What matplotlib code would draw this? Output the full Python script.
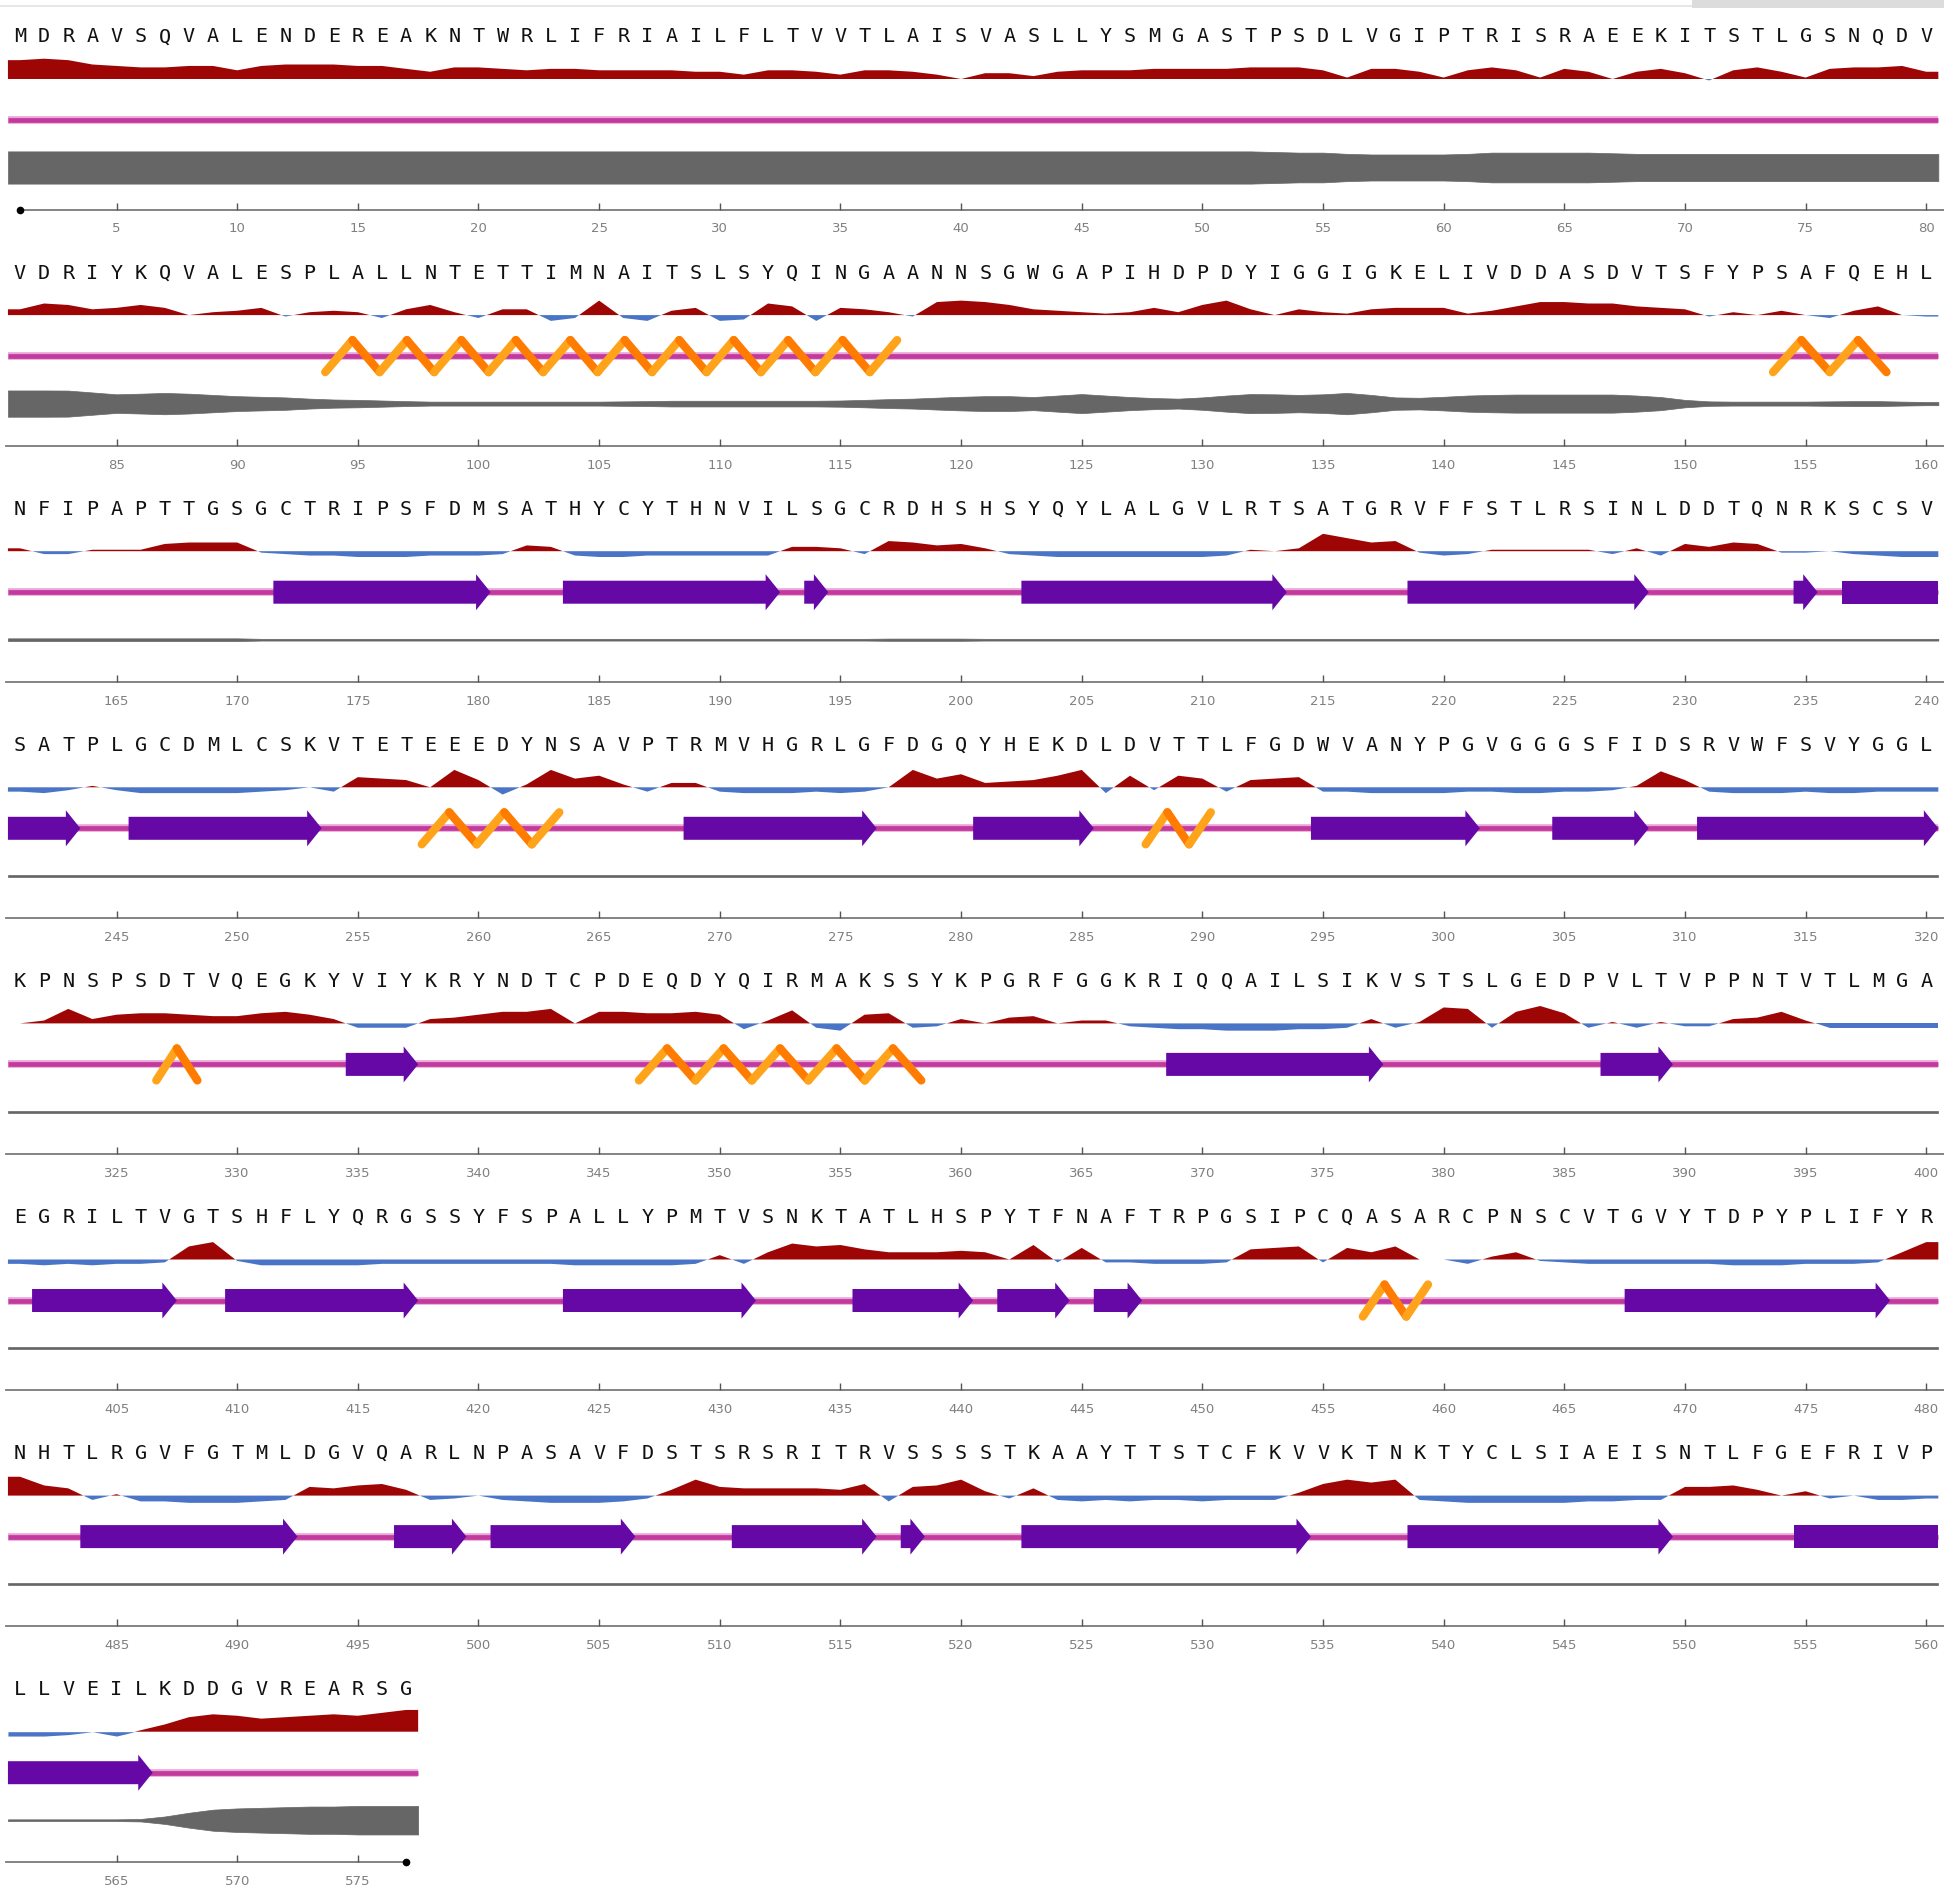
import numpy as np
import matplotlib
matplotlib.use('Agg')
import matplotlib.pyplot as plt
from matplotlib.collections import LineCollection
from matplotlib.patches import FancyArrow, Rectangle

# protein sequence, 80 residues per row
sequence = (
    "MDRAVSQVALENDEREAKNTWRLIFRIAILFLTVVTLAISVASLLYSMGASTPSDLVGIPTRISRAEEKITSTLGSNQDV"
    "VDRIYKQVALESPLALLNTETTIMNAITSLSYQINGAANNSGWGAPIHDPDYIGGIGKELIVDDASDVTSFYPSAFQEHL"
    "NFIPAPTTGSGCTRIPSFDMSATHYCYTHNVILSGCRDHSHSYQYLALGVLRTSATGRVFFSTLRSINLDDTQNRKSCSV"
    "SATPLGCDMLCSKVTETEEEDYNSAVPTRMVHGRLGFDGQYHEKDLDVTTLFGDWVANYPGVGGGSFIDSRVWFSVYGGL"
    "KPNSPSDTVQEGKYVIYKRYNDTCPDEQDYQIRMAKSSYKPGRFGGKRIQQAILSIKVSTSLGEDPVLTVPPNTVTLMGA"
    "EGRILTVGTSHFLYQRGSSYFSPALLYPMTVSNKTATLHSPYTFNAFTRPGSIPCQASARCPNSCVTGVYTDPYPLIFYR"
    "NHTLRGVFGTMLDGVQARLNPASAVFDSTSRSRITRVSSSSTKAAYTTSTCFKVVKTNKTYCLSIAEISNTLFGEFRIVP"
    "LLVEILKDDGVREARSG"
)

# hydrophobicity track, one value per residue (red > 0, blue < 0)
hydro_1 = [13, 14, 13, 10, 9, 8, 8, 9, 9, 6, 9, 10, 10, 10, 9, 9, 7, 5, 8, 8,
           7, 6, 7, 7, 6, 6, 6, 6, 5, 5, 3, 6, 6, 5, 3, 6, 6, 5, 3, 0,
           4, 4, 2, 5, 6, 6, 6, 7, 7, 7, 7, 8, 8, 8, 6, 1, 7, 7, 5, 1,
           6, 8, 6, 1, 7, 5, 0, 5, 7, 4, -1, 6, 8, 5, 1, 7, 8, 8, 9, 5]
hydro_2 = [4, 8, 7, 4, 5, 7, 5, 0, 2, 3, 5, -1, 2, 3, 2, -2, 4, 7, 2, -2,
           4, 4, -4, -2, 10, -2, -4, 3, 5, -4, -3, 8, 6, -4, 5, 4, 2, -1, 9, 10,
           9, 7, 4, 3, 2, 1, 2, 5, 2, 7, 10, 4, 0, 4, 2, 1, 4, 5, 5, 5,
           1, 3, 6, 9, 9, 8, 8, 6, 5, 4, -1, 2, 0, 3, 0, -2, 3, 6, 0, -1]
hydro_3 = [2, -2, -2, 1, 1, 1, 5, 6, 6, 6, -1, -2, -3, -3, -4, -4, -4, -3, -3, -3,
           -2, 4, 3, -3, -4, -4, -3, -3, -3, -3, -3, -3, 3, 3, 2, -2, 7, 6, 4, 5,
           2, -2, -3, -4, -4, -4, -4, -4, -4, -4, -3, 1, 0, 2, 12, 9, 6, 7, -1, -3,
           -2, 1, 1, 1, 1, 1, -2, 2, -3, 5, 3, 6, 5, -1, -1, 0, -2, -3, -4, -4]
hydro_4 = [-3, -4, -2, 1, -2, -4, -4, -4, -4, -4, -3, -2, 0, -3, 7, 6, 5, 0, 12, 5,
           -5, 2, 12, 6, 8, 2, -3, 3, 3, -3, -4, -4, -4, -3, -4, -3, 0, 12, 6, 9,
           3, 4, 5, 8, 12, -4, 8, -2, 8, 6, -3, 5, 6, 7, -3, -3, -4, -4, -4, -4,
           -3, -3, -4, -4, -3, -3, -2, 1, 11, 5, -3, -4, -4, -4, -3, -4, -4, -3, -3, -3]
hydro_5 = [0, 2, 10, 3, 6, 7, 7, 6, 5, 5, 7, 8, 6, 3, -3, -3, -3, 3, 4, 6,
           8, 8, 10, 0, 8, 8, 7, 7, 8, 6, -4, 2, 9, -3, -5, 6, 7, -3, -2, 3,
           0, 4, 5, 0, 2, 2, -2, -3, -4, -4, -5, -5, -5, -4, -4, -3, 3, -3, 1, 11,
           10, -3, 8, 12, 7, -3, 1, -3, 1, -2, -2, 3, 4, 8, 2, -3, -3, -3, -3, -3]
hydro_6 = [-3, -4, -3, -4, -3, -3, -2, 9, 12, -1, -4, -4, -4, -4, -4, -3, -3, -3, -3, -3,
           -3, -3, -3, -4, -4, -4, -4, -4, -3, 3, -3, 5, 11, 9, 10, 7, 5, 5, 5, 6,
           5, 0, 10, -2, 8, -2, -2, -3, -3, -3, -2, 7, 8, 9, -2, 8, 5, 9, 0, 0,
           -3, 2, 5, -1, -2, -3, -3, -3, -3, -3, -3, -4, -4, -4, -3, -3, -3, -2, 5, 12]
hydro_7 = [13, 7, 5, -3, 1, -4, -4, -5, -5, -5, -4, -3, 6, 5, 7, 8, 4, -3, -2, 0,
           -3, -4, -5, -5, -5, -4, -2, 4, 11, 6, 5, 5, 5, 5, 4, 8, -4, 6, 7, 11,
           3, -2, 5, -3, -4, -3, -4, -3, -3, -4, -3, -3, -3, 2, 8, 11, 9, 11, -3, -4,
           -5, -5, -5, -5, -5, -4, -4, -3, -3, 6, 6, 7, 4, 0, 3, -2, 0, -3, -3, -2]
hydro_8 = [-3, -3, -2, 0, -3, 1, 5, 10, 12, 11, 9, 10, 11, 12, 11, 13, 15]

# disorder track: half thickness of the grey band per residue
disorder_1 = [13, 13, 13, 13, 13, 13, 13, 13, 13, 13, 13, 13, 13, 13, 13, 13, 13, 13, 13, 13,
              13, 13, 13, 13, 13, 13, 13, 13, 13, 13, 13, 13, 13, 13, 13, 13, 13, 13, 13, 13,
              13, 13, 13, 13, 13, 13, 13, 13, 13, 13, 13, 13, 12.5, 12, 12, 11, 10.5, 10.5, 10.5, 10.5,
              11, 12, 12, 12, 12, 12, 11.5, 11, 11, 11, 11, 11, 11, 11, 11, 11, 11, 11, 11, 11]
disorder_2 = [10.6, 10.6, 10.5, 9, 7.5, 8, 8.6, 8, 7, 6, 5.5, 5, 4, 3.3, 3, 2.5, 2, 1.6, 1.6, 1.6,
              1.6, 1.6, 1.6, 1.6, 1.6, 1.8, 2, 2.3, 2.3, 2.3, 2.3, 2.3, 2.3, 2.3, 2.5, 3, 3.6, 4, 4.8, 5.5,
              6, 6, 5.3, 6.5, 7.7, 6.5, 5.3, 4.5, 4, 5, 6.5, 7.7, 7.5, 7, 7.5, 8.6, 7, 5, 4.7, 5.5,
              6.5, 7, 7.3, 7.3, 7.3, 7.3, 7.3, 6.5, 5.3, 3, 1.8, 1.6, 1.6, 1.6, 1.6, 1.8, 2, 2, 1.6, 1.3]
disorder_3 = [1.1, 1.1, 1.1, 1.1, 1.1, 1.1, 1.1, 1.1, 1.1, 1.1, 0.7, 0.7, 0.7, 0.7, 0.7, 0.7, 0.7, 0.7, 0.7, 0.7,
              0.7, 0.7, 0.7, 0.7, 0.7, 0.7, 0.7, 0.7, 0.7, 0.7, 0.7, 0.7, 0.7, 0.7, 0.7, 0.7, 0.9, 0.9, 0.9, 0.9,
              0.7, 0.7, 0.7, 0.7, 0.7, 0.7, 0.7, 0.7, 0.7, 0.7, 0.7, 0.7, 0.7, 0.7, 0.7, 0.7, 0.7, 0.7, 0.7, 0.7,
              0.7, 0.7, 0.7, 0.7, 0.7, 0.7, 0.7, 0.7, 0.7, 0.7, 0.7, 0.7, 0.7, 0.7, 0.7, 0.7, 0.7, 0.7, 0.7, 0.7]
disorder_4 = [0.7, 0.7, 0.7, 0.7, 0.7, 0.7, 0.7, 0.7, 0.7, 0.7, 0.7, 0.7, 0.7, 0.7, 0.7, 0.7, 0.7, 0.7, 0.7, 0.7,
              0.7, 0.7, 0.7, 0.7, 0.7, 0.7, 0.7, 0.7, 0.7, 0.7, 0.7, 0.7, 0.7, 0.7, 0.7, 0.7, 0.7, 0.7, 0.7, 0.7,
              0.7, 0.7, 0.7, 0.7, 0.7, 0.7, 0.7, 0.7, 0.7, 0.7, 0.7, 0.7, 0.7, 0.7, 0.7, 0.7, 0.7, 0.7, 0.7, 0.7,
              0.7, 0.7, 0.7, 0.7, 0.7, 0.7, 0.7, 0.7, 0.7, 0.7, 0.7, 0.7, 0.7, 0.7, 0.7, 0.7, 0.7, 0.7, 0.7, 0.7]
disorder_5 = list(disorder_4)
disorder_6 = list(disorder_4)
disorder_7 = list(disorder_4)
disorder_8 = [0.7, 0.7, 0.7, 0.7, 0.7, 1, 3, 6, 8.5, 9.5, 10, 10.5, 11, 11, 11.5, 11.5, 11.5]

# secondary structure (first, last residue)
helices = [(94, 117), (154, 158), (258, 263), (288, 290), (327, 328), (347, 358), (457, 459)]
strands = [(172, 180), (184, 192), (194, 194), (203, 213), (219, 228), (235, 235), (237, 243),
           (246, 253), (269, 276), (281, 285), (295, 301), (305, 308), (311, 320), (335, 337),
           (369, 377), (387, 389), (402, 407), (410, 417), (424, 431), (436, 440), (442, 444),
           (446, 447), (468, 478), (484, 492), (497, 499), (501, 506), (511, 516), (518, 518),
           (523, 534), (539, 549), (555, 566)]

hydro = hydro_1 + hydro_2 + hydro_3 + hydro_4 + hydro_5 + hydro_6 + hydro_7 + hydro_8
disorder = (disorder_1 + disorder_2 + disorder_3 + disorder_4 + disorder_5 + disorder_6
            + disorder_7 + disorder_8)

# layout (pixels)
W, H = 1944, 1893
PER_ROW = 80
BLOCK = 236.1
RES_PX = 24.13
X0 = 20
UNIT = 1.24
HYD_UNIT = 1.45
Y_TEXT, Y_HYD, Y_SS, Y_DIS, Y_RULER, Y_LABEL = 37, 79, 120, 167.5, 209.6, 229

RED, BLUE = '#9e0606', '#4a74c6'
COIL, COIL_HALO = '#c23a9c', '#eaa6dc'
STRAND = '#6608a6'
HELIX_UP, HELIX_DOWN = '#ffa41a', '#ff7c00'
GREY = '#666666'

n = len(sequence)
fig = plt.figure(figsize=(W / 100, H / 100), dpi=100)

n_rows = (n + PER_ROW - 1) // PER_ROW
for r in range(n_rows):
    start = r * PER_ROW + 1
    end = min(start + PER_ROW - 1, n)
    ax = fig.add_axes([0, 1 - (r + 1) * BLOCK / H, 1, BLOCK / H])
    ax.set_xlim(start - X0 / RES_PX, start + (W - X0) / RES_PX)
    ax.set_ylim(BLOCK, 0)
    ax.axis('off')

    res = np.arange(start, end + 1)
    lo, hi = start - 0.5, end + 0.5

    # sequence letters
    for i in res:
        ax.text(i, Y_TEXT, sequence[i - 1], ha='center', va='center',
                family='DejaVu Sans Mono', fontsize=14.5, color='#111111')

    # hydrophobicity
    v = np.array(hydro[start - 1:end], dtype=float)
    xx = np.concatenate([[lo], res, [hi]])
    vv = np.concatenate([[v[0]], v, [v[-1]]])
    yy = Y_HYD - vv * HYD_UNIT
    ax.fill_between(xx, Y_HYD, yy, where=vv >= 0, interpolate=True, color=RED, lw=0)
    ax.fill_between(xx, Y_HYD, yy, where=vv <= 0, interpolate=True, color=BLUE, lw=0)

    # coil line
    ax.plot([lo, hi], [Y_SS, Y_SS], color=COIL_HALO, lw=5.5, solid_capstyle='butt', zorder=2)
    ax.plot([lo, hi], [Y_SS, Y_SS], color=COIL, lw=3.4, solid_capstyle='butt', zorder=2)

    # strands
    for a, b in strands:
        s0, s1 = max(a - 0.5, lo), min(b + 0.5, hi)
        if s1 <= s0:
            continue
        if b <= end:
            ax.add_patch(FancyArrow(s0, Y_SS, s1 - s0, 0, width=23, head_width=36,
                                    head_length=min(0.6, s1 - s0), length_includes_head=True,
                                    color=STRAND, lw=0, zorder=3))
        else:
            ax.add_patch(Rectangle((s0, Y_SS - 11.5), s1 - s0, 23, color=STRAND, lw=0, zorder=3))

    # helices
    for a, b in helices:
        h0, h1 = max(a - 0.5, lo), min(b + 0.5, hi)
        if h1 <= h0:
            continue
        strokes = max(2, int(round((b - a + 1) / 1.15)))
        hx = np.linspace(h0 + 0.15, h1 - 0.15, strokes + 1)
        hy = np.where(np.arange(strokes + 1) % 2 == 0, Y_SS + 16, Y_SS - 16)
        segs = [[(hx[k], hy[k]), (hx[k + 1], hy[k + 1])] for k in range(strokes)]
        cols = [HELIX_UP if k % 2 == 0 else HELIX_DOWN for k in range(strokes)]
        ax.add_collection(LineCollection(segs, colors=cols, linewidths=6,
                                         capstyle='round', zorder=4))

    # disorder band
    d = np.array(disorder[start - 1:end], dtype=float)
    dd = np.concatenate([[d[0]], d, [d[-1]]]) * UNIT
    ax.fill_between(xx, Y_DIS - dd, Y_DIS + dd, color=GREY, lw=0.5, edgecolor=GREY)

    # ruler
    r0 = 1 if start == 1 else start - 0.6
    r1 = n if end == n else end + 0.8
    ax.plot([r0, r1], [Y_RULER, Y_RULER], color='#7a7a7a', lw=1.3)
    ticks = res[res % 5 == 0]
    ax.vlines(ticks, Y_RULER - 7, Y_RULER, color='#555555', lw=1.0)
    for t in ticks:
        ax.text(t, Y_LABEL, str(t), ha='center', va='center', fontsize=9.5, color='#808080')
    if start == 1:
        ax.plot([1], [Y_RULER], 'o', color='black', ms=4.5)
    if end == n:
        ax.plot([n], [Y_RULER], 'o', color='black', ms=4.5)

# thin frame line and scrollbar strip along the top
fig.add_artist(plt.Line2D([0, 1692 / W], [1 - 6 / H, 1 - 6 / H], color='#e2e2e2', lw=1.2))
fig.add_artist(Rectangle((1692 / W, 1 - 8 / H), (W - 1692) / W, 8 / H,
                         transform=fig.transFigure, color='#dcdcdc', lw=0))

fig.savefig('out.png', dpi=100, facecolor='white')
plt.close(fig)
